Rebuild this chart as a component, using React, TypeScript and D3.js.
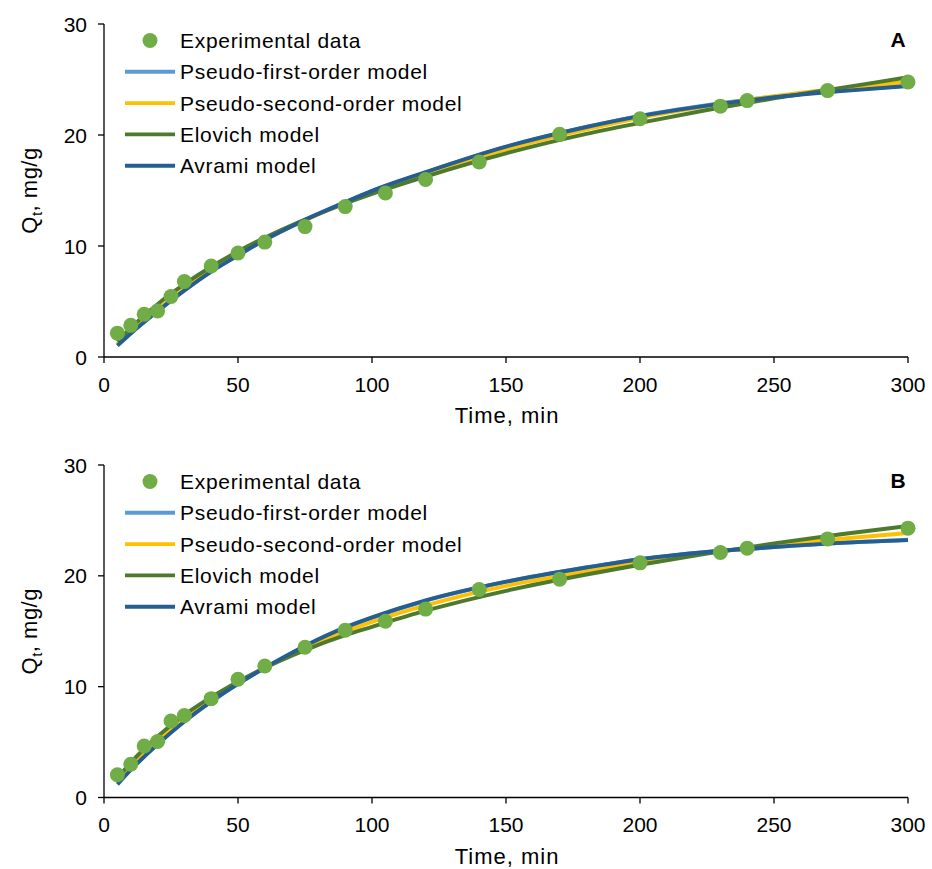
import React from "react";
import * as d3 from "d3";

// ---- Data ----
const timePoints = [5, 10, 15, 20, 25, 30, 40, 50, 60, 75, 90, 105, 120, 140, 170, 200, 230, 240, 270, 300];
const expA = [2.15, 2.85, 3.85, 4.15, 5.45, 6.8, 8.2, 9.37, 10.35, 11.75, 13.55, 14.78, 16.0, 17.57, 20.06, 21.47, 22.6, 23.1, 24.0, 24.77];
const expB = [2.05, 3.0, 4.65, 5.05, 6.9, 7.4, 8.92, 10.67, 11.86, 13.55, 15.1, 15.9, 17.0, 18.77, 19.7, 21.17, 22.1, 22.5, 23.33, 24.3];

const modelTimes = [5, 10, 20, 30, 40, 50, 60, 75, 90, 100, 120, 150, 180, 200, 225, 250, 275, 300];
const pfoA = [1.08, 2.15, 4.15, 6.0, 7.7, 9.15, 10.55, 12.35, 13.95, 14.95, 16.62, 18.92, 20.72, 21.72, 22.68, 23.45, 24.0, 24.45];
const psoA = [1.18, 2.28, 4.3, 6.15, 7.8, 9.25, 10.58, 12.32, 13.88, 14.82, 16.45, 18.7, 20.5, 21.55, 22.6, 23.5, 24.2, 24.8];
const eloA = [1.38, 2.62, 4.76, 6.56, 8.13, 9.51, 10.75, 12.39, 13.83, 14.7, 16.26, 18.35, 20.1, 21.1, 22.25, 23.3, 24.25, 25.2];
const avrA = [1.02, 2.12, 4.12, 6.0, 7.7, 9.15, 10.55, 12.35, 13.95, 14.97, 16.65, 18.95, 20.72, 21.7, 22.65, 23.4, 23.95, 24.42];

const pfoB = [1.3, 2.55, 4.84, 6.88, 8.65, 10.25, 11.7, 13.65, 15.3, 16.2, 17.75, 19.45, 20.75, 21.5, 22.15, 22.6, 22.98, 23.25];
const psoB = [1.45, 2.75, 5.05, 7.05, 8.8, 10.35, 11.7, 13.55, 15.0, 15.85, 17.33, 19.1, 20.4, 21.2, 22.05, 22.75, 23.35, 23.87];
const eloB = [1.74, 3.15, 5.5, 7.45, 9.05, 10.45, 11.7, 13.3, 14.65, 15.4, 16.85, 18.65, 20.12, 21.0, 22.0, 22.93, 23.75, 24.5];
const avrB = [1.18, 2.48, 4.8, 6.86, 8.65, 10.25, 11.7, 13.68, 15.35, 16.25, 17.78, 19.47, 20.75, 21.5, 22.15, 22.6, 22.97, 23.22];

const xTicks = [0, 50, 100, 150, 200, 250, 300];
const yTicks = [0, 10, 20, 30];
const legendLabels = ["Experimental data", "Pseudo-first-order model", "Pseudo-second-order model", "Elovich model", "Avrami model"];
const panelLabels = ["A", "B"];

const COLORS = {
  exp: "#70AD47",
  pfo: "#5B9BD5",
  pso: "#FFC000",
  elo: "#4E7A2E",
  avr: "#255E91",
};
const FONT = "Liberation Sans, Arial, sans-serif";

type PanelProps = {
  top: number;
  bottom: number;
  exp: number[];
  pfo: number[];
  pso: number[];
  elo: number[];
  avr: number[];
  label: string;
};

function Panel({ top, bottom, exp, pfo, pso, elo, avr, label }: PanelProps) {
  const x = d3.scaleLinear().domain([0, 300]).range([104, 908]);
  const y = d3.scaleLinear().domain([0, 30]).range([bottom, top]);
  const line = d3
    .line<number>()
    .x((_, i) => x(modelTimes[i]))
    .y((d) => y(d))
    .curve(d3.curveMonotoneX);

  const series = [
    { vals: pfo, color: COLORS.pfo },
    { vals: pso, color: COLORS.pso },
    { vals: elo, color: COLORS.elo },
    { vals: avr, color: COLORS.avr },
  ];
  const legendLineColors = [COLORS.pfo, COLORS.pso, COLORS.elo, COLORS.avr];
  const legTop = top + 16.5;
  const legStep = 31.3;

  return (
    <g>
      <line x1={x(0)} x2={x(0)} y1={y(30)} y2={y(0)} stroke="#000" strokeWidth={1.3} />
      <line x1={x(0)} x2={x(300)} y1={y(0)} y2={y(0)} stroke="#000" strokeWidth={1.3} />
      {yTicks.map((t) => (
        <g key={"y" + t}>
          <line x1={x(0) - 6} x2={x(0)} y1={y(t)} y2={y(t)} stroke="#000" strokeWidth={1.3} />
          <text x={x(0) - 17} y={y(t)} dy="0.36em" textAnchor="end" fontSize={21} fontFamily={FONT}>
            {t}
          </text>
        </g>
      ))}
      {xTicks.map((t) => (
        <g key={"x" + t}>
          <line x1={x(t)} x2={x(t)} y1={y(0)} y2={y(0) + 6} stroke="#000" strokeWidth={1.3} />
          <text x={x(t)} y={y(0) + 34.5} textAnchor="middle" fontSize={21} fontFamily={FONT}>
            {t}
          </text>
        </g>
      ))}
      <text x={507} y={y(0) + 66} textAnchor="middle" fontSize={22} letterSpacing={1} fontFamily={FONT}>
        Time, min
      </text>
      <text
        transform={`translate(37, ${(y(0) + y(30)) / 2}) rotate(-90)`}
        textAnchor="middle"
        fontSize={22}
        letterSpacing={0.5}
        fontFamily={FONT}
      >
        Q<tspan fontSize={15} dy={5}>t</tspan>
        <tspan dy={-5}>, mg/g</tspan>
      </text>

      {series.map((s, i) => (
        <path key={i} d={line(s.vals) || ""} fill="none" stroke={s.color} strokeWidth={3.9} />
      ))}
      {exp.map((v, i) => (
        <circle key={i} cx={x(timePoints[i])} cy={y(v)} r={7.5} fill={COLORS.exp} />
      ))}

      <circle cx={150} cy={legTop} r={7.5} fill={COLORS.exp} />
      <text x={180} y={legTop} dy="0.36em" fontSize={21} letterSpacing={0.7} fontFamily={FONT}>
        {legendLabels[0]}
      </text>
      {legendLineColors.map((c, i) => {
        const ly = legTop + legStep * (i + 1);
        return (
          <g key={i}>
            <line x1={125} x2={175} y1={ly} y2={ly} stroke={c} strokeWidth={3.9} />
            <text x={180} y={ly} dy="0.36em" fontSize={21} letterSpacing={0.7} fontFamily={FONT}>
              {legendLabels[i + 1]}
            </text>
          </g>
        );
      })}

      <text x={898} y={top + 23} textAnchor="middle" fontSize={21} fontWeight="bold" fontFamily={FONT}>
        {label}
      </text>
    </g>
  );
}

export default function App() {
  return (
    <svg width={932} height={869} style={{ position: "absolute", left: 0, top: 0, background: "#fff" }}>
      <rect width={932} height={869} fill="#fff" />
      <Panel top={24} bottom={357} exp={expA} pfo={pfoA} pso={psoA} elo={eloA} avr={avrA} label={panelLabels[0]} />
      <Panel top={465} bottom={797.5} exp={expB} pfo={pfoB} pso={psoB} elo={eloB} avr={avrB} label={panelLabels[1]} />
    </svg>
  );
}
